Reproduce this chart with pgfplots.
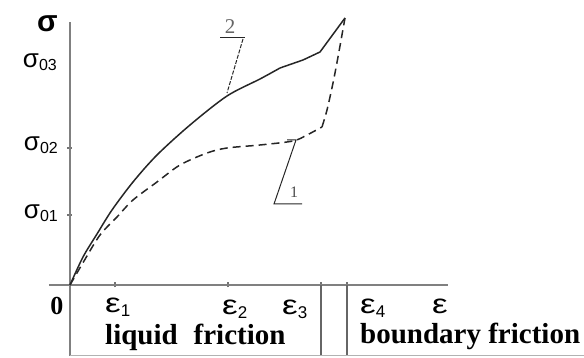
\documentclass[border=0pt]{standalone}
\usepackage{fontspec}
\setmainfont{Liberation Serif}
\newfontfamily\lab{Liberation Sans}
\usepackage{pgfplots}
\pgfplotsset{compat=1.18}
\newcommand{\fs}[1]{\fontsize{#1}{#1}\selectfont}
\newcommand{\sig}[1]{{\lab\fs{26}σ}\raisebox{-3pt}{\lab\fs{16}#1}}
\newcommand{\epsg}{\scalebox{1.3}[1]{\lab\fs{27}ε}}
\newcommand{\eps}[1]{\epsg\raisebox{-4pt}{\lab\fs{17}#1}}
\begin{document}
\begin{tikzpicture}
\begin{axis}[
 scale only axis, width=399pt, height=334pt,
 xmin=-21, xmax=378, ymin=-71, ymax=263,
 axis lines=middle,
 axis line style={-, draw=black!50, line width=1.6pt},
 xtick={45,158,251,277}, ytick={70,137},
 xticklabels={}, yticklabels={},
 major tick length=5pt, tick align=center,
 tick style={black!55, line width=1.2pt},
 clip=false,
]
% frame lines of the friction regions
\addplot[black!60, line width=1.2pt] coordinates {(251,0) (251,-71)};
\addplot[black!60, line width=1.2pt] coordinates {(277,0) (277,-71)};
\addplot[black!30, line width=1pt] coordinates {(0,-71) (514,-71)};
% curve 2 (solid)
\addplot[black!85, line width=1.5pt, smooth] coordinates {
(0,0) (13,28) (27,51) (42,75) (63,103)
(87,130) (120,160) (157,189) (190,206) (210,217)};
\addplot[black!85, line width=1.5pt] coordinates {
(210,217) (233,225) (250,233) (275,267)};
% curve 1 (dashed)
\addplot[black!85, line width=1.5pt, dash pattern=on 8pt off 5pt, smooth] coordinates {
(0,0) (14,24) (30,50) (47,68) (63,85) (87,103) (110,120) (137,132)
(157,137) (190,140) (223,144) (237,150) (252,158)};
\addplot[black!85, line width=1.5pt, dash pattern=on 8pt off 5pt, smooth] coordinates {
(252,158) (257,175) (263,202) (268,228) (275,267)};
% leaders
\addplot[black!85, line width=1pt] coordinates {(150,247) (175,247)};
\addplot[black!85, line width=1pt, dash pattern=on 4pt off 1.5pt] coordinates {(173,246) (157,192)};
\addplot[black!85, line width=1pt] coordinates {(217,145) (226,145) (204,81) (232,81)};
% labels
\node[anchor=base, inner sep=0, text=black!60] at (axis cs:160,251) {\fs{21}2};
\node[anchor=base, inner sep=0, text=black!70] at (axis cs:224,87) {\fs{16}1};
\node[anchor=base, inner sep=0] at (axis cs:-22.5,253) {\lab\bfseries\fs{30}σ};
\node[anchor=base east, inner sep=0] at (axis cs:-13,217) {\sig{03}};
\node[anchor=base east, inner sep=0] at (axis cs:-12,134) {\sig{02}};
\node[anchor=base east, inner sep=0] at (axis cs:-12,66) {\sig{01}};
\node[anchor=base, inner sep=0] at (axis cs:-13,-30) {\bfseries\fs{26}0};
\node[anchor=base west, inner sep=0] at (axis cs:35,-28) {\eps{1}};
\node[anchor=base west, inner sep=0] at (axis cs:152,-30) {\eps{2}};
\node[anchor=base west, inner sep=0] at (axis cs:212,-30) {\eps{3}};
\node[anchor=base west, inner sep=0] at (axis cs:290,-29) {\eps{4}};
\node[anchor=base west, inner sep=0] at (axis cs:362,-29) {\epsg};
\node[anchor=base west, inner sep=0] at (axis cs:35,-60) {\bfseries\fs{29}liquid\hspace{0.55em}friction};
\node[anchor=base west, inner sep=0] at (axis cs:290,-59) {\bfseries\fs{29}boundary friction};
\coordinate (BL) at (axis cs:-70,-73);
\coordinate (TR) at (axis cs:514,285);
\end{axis}
\pgfresetboundingbox
\path (BL) rectangle (TR);
\end{tikzpicture}
\end{document}
